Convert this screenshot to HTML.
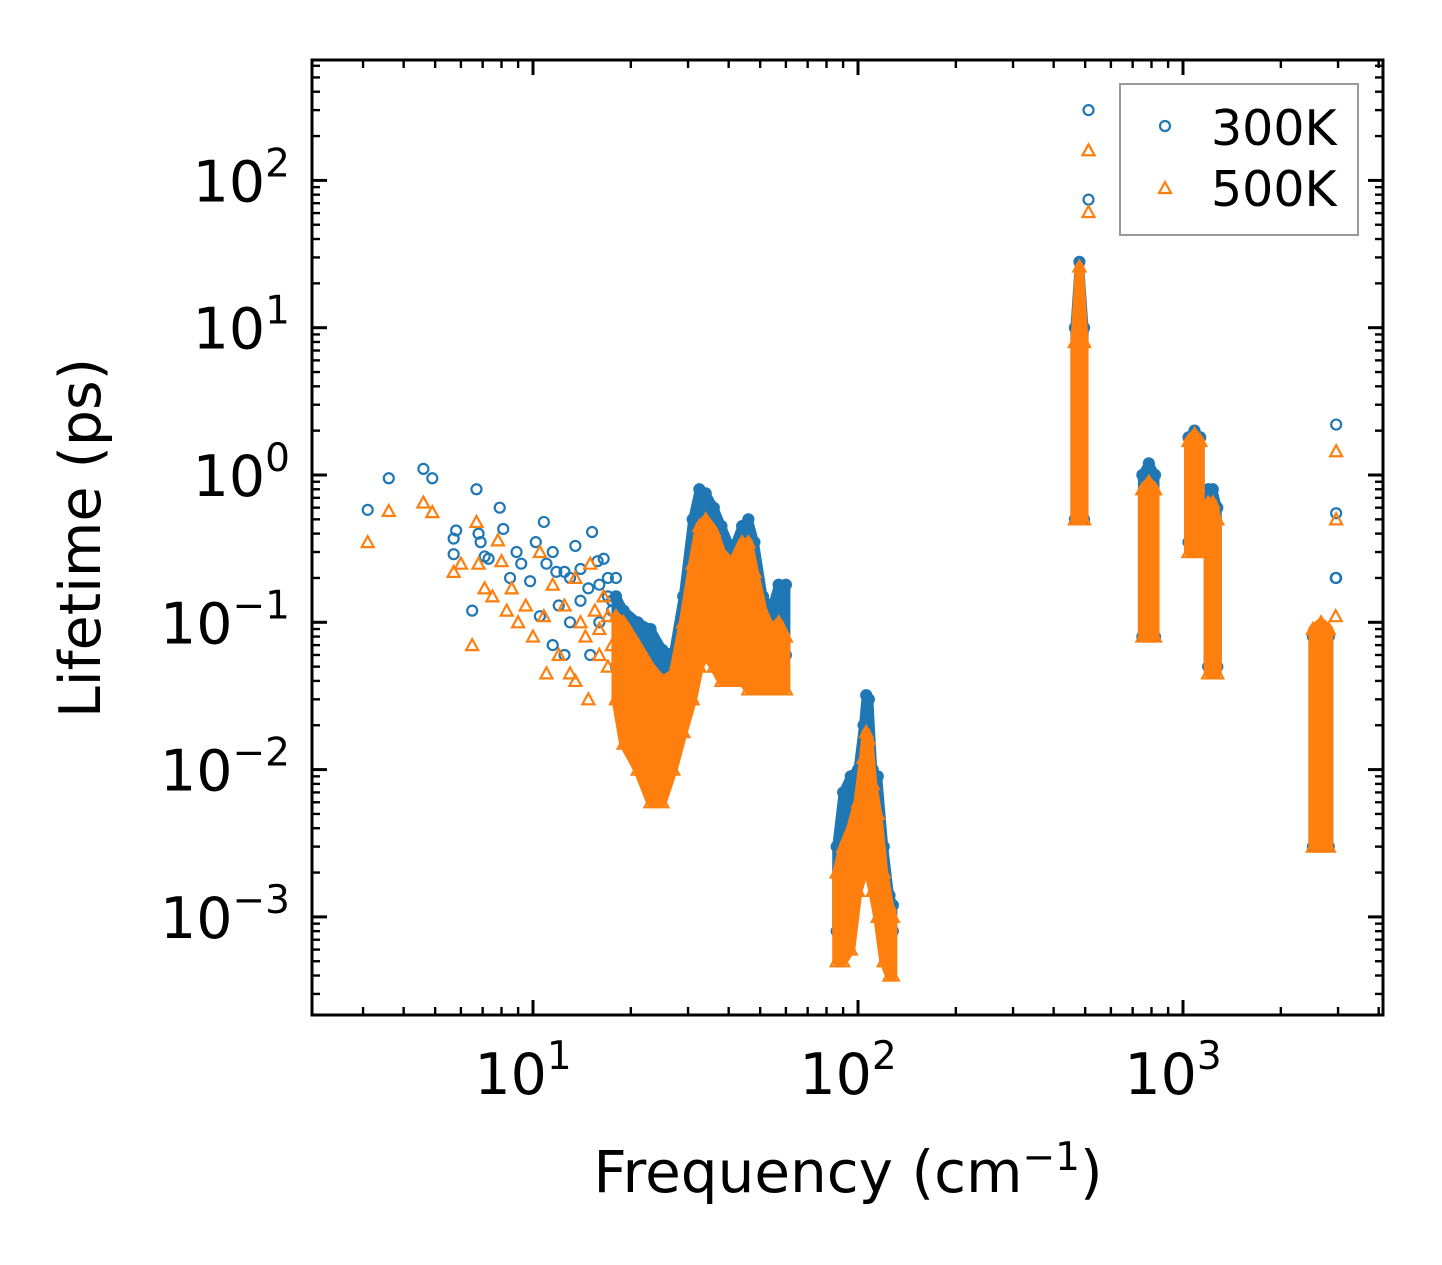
<!DOCTYPE html>
<html><head><meta charset="utf-8">
<style>
html,body{margin:0;padding:0;background:#fff;}
svg{display:block;font-family:"DejaVu Sans","Liberation Sans",sans-serif;}
</style></head>
<body>
<svg id="chart" width="1442" height="1265" viewBox="0 0 1442 1265" xmlns="http://www.w3.org/2000/svg">
<rect width="1442" height="1265" fill="#fff"/>
<g id="marks"></g>
<g id="axes"></g>
<text x="100" y="538" font-size="57" text-anchor="middle" transform="rotate(-90 100 538)">Lifetime (ps)</text>
<text x="848" y="1192" font-size="58" text-anchor="middle">Frequency (cm<tspan dy="-22" font-size="39">−1</tspan><tspan dy="22">)</tspan></text>
<g>
<rect x="1120" y="84" width="238" height="151" fill="#fff" stroke="#999" stroke-width="2"/>
<circle cx="1165" cy="126" r="5" fill="none" stroke="#1f77b4" stroke-width="2.2"/>
<text x="1211" y="145" font-size="49">300K</text>
<path d="M1159,193 L1171,193 L1165,182 Z" fill="none" stroke="#ff7f0e" stroke-width="2.2"/>
<text x="1211" y="206" font-size="49">500K</text>
</g>
</svg>
<script>
// ---- data ----
const xTickValues = [10, 100, 1000];
const xTickExps = ["1", "2", "3"];
const yTickValues = [1e-3, 1e-2, 1e-1, 1, 10, 100];
const yTickExps = ["−3", "−2", "−1", "0", "1", "2"];

// dense cluster envelopes (frequency, low lifetime, high lifetime)
const bandFreqA = [18,19,21,23,25,27,29,31,32.5,34,36,38,41,44,46,48,51,54,57,60];
const hiA300 = [.15,.12,.1,.09,.065,.06,.15,.5,.8,.75,.6,.45,.3,.45,.5,.35,.15,.12,.18,.18];
const loA300 = [.05,.04,.03,.025,.02,.025,.04,.06,.1,.12,.1,.08,.07,.07,.06,.05,.05,.05,.05,.06];
const hiA500 = [.11,.1,.07,.05,.04,.045,.1,.25,.45,.5,.42,.3,.25,.35,.35,.22,.12,.09,.1,.08];
const loA500 = [.03,.015,.01,.006,.006,.01,.018,.03,.05,.06,.05,.04,.04,.04,.035,.035,.035,.035,.035,.035];

const bandFreqB = [86,90,95,100,104,106,108,111,115,120,125,128];
const hiB300 = [.003,.007,.009,.01,.02,.032,.03,.01,.009,.003,.0014,.0012];
const loB300 = [.0008,.0007,.0008,.002,.003,.004,.003,.002,.0015,.0008,.0008,.0008];
const hiB500 = [.002,.003,.004,.006,.012,.018,.016,.008,.005,.002,.0012,.001];
const loB500 = [.0005,.0005,.0006,.0015,.002,.003,.002,.0015,.001,.0005,.0004,.0004];

const bandFreqC = [465,480,496];
const hiC300 = [10,28,10]; const loC300 = [0.5,0.5,0.5];
const hiC500 = [8,26,8];  const loC500 = [0.5,0.5,0.5];

const bandFreqD = [750,785,820];
const hiD300 = [1.0,1.2,1.0]; const loD300 = [0.08,0.08,0.08];
const hiD500 = [0.8,0.9,0.8]; const loD500 = [0.08,0.08,0.08];

const bandFreqE = [1040,1085,1130];
const hiE300 = [1.8,2.0,1.8]; const loE300 = [0.35,0.33,0.35];
const hiE500 = [1.7,1.9,1.7]; const loE500 = [0.3,0.3,0.3];

const bandFreqF = [1195,1235,1275];
const hiF300 = [0.8,0.8,0.6]; const loF300 = [0.05,0.05,0.05];
const hiF500 = [0.65,0.65,0.5]; const loF500 = [0.045,0.045,0.045];

const bandFreqG = [2510,2660,2810];
const hiG300 = [0.08,0.09,0.08]; const loG300 = [0.003,0.003,0.003];
const hiG500 = [0.09,0.1,0.09]; const loG500 = [0.003,0.003,0.003];

// scattered points
const freq300 = [3.1,3.6,4.6,4.9,5.7,5.8,5.7,6.5,6.7,6.8,6.9,7.1,7.3,7.9,8.1,8.5,8.9,9.2,9.8,10.2,10.8,11,11.5,11.8,12.5,13,13.5,14,14.8,15.2,15.8,16.5,17,17.5,10.5,11.5,12,13,14,16,12.5,15,16,17,17.5,18,512,512,2960,2960,2960,2950];
const life300 = [0.58,0.95,1.1,0.95,0.37,0.42,0.29,0.12,0.8,0.4,0.35,0.28,0.27,0.6,0.43,0.2,0.3,0.25,0.19,0.35,0.48,0.25,0.3,0.22,0.22,0.2,0.33,0.23,0.17,0.41,0.26,0.27,0.2,0.14,0.11,0.07,0.13,0.1,0.14,0.1,0.06,0.06,0.18,0.15,0.12,0.2,300,74,2.2,0.55,0.2,0.2];
const freq500 = [3.1,3.6,4.6,4.9,5.7,6,6.5,6.7,6.8,7.1,7.5,7.8,8,8.3,8.6,9,9.5,10,10.5,10.8,11,11.5,12,12.5,13,13.5,14,14.5,15,15.5,16,16.5,17,13.5,14.8,16,17,17.5,512,512,2960,2960,2950];
const life500 = [0.35,0.57,0.65,0.56,0.22,0.25,0.07,0.48,0.25,0.17,0.15,0.36,0.26,0.12,0.17,0.1,0.13,0.08,0.3,0.11,0.045,0.18,0.06,0.13,0.045,0.2,0.1,0.08,0.25,0.12,0.06,0.15,0.05,0.04,0.03,0.09,0.11,0.07,160,61,1.45,0.5,0.11];

// ---- axis functions ----
const X0 = 312, X1 = 1383, Y0 = 60, Y1 = 1015;
function xs(f){ return 533 + (Math.log10(f) - 1) * 325; }
function ys(v){ return 475 - Math.log10(v) * 147.3; }

const NS = "http://www.w3.org/2000/svg";
const marks = document.getElementById('marks');
const axes = document.getElementById('axes');
const BLUE = "#1f77b4", ORANGE = "#ff7f0e";

function mk(tag, attrs, parent){
  const e = document.createElementNS(NS, tag);
  for (const k in attrs) e.setAttribute(k, attrs[k]);
  parent.appendChild(e);
  return e;
}
function circle(f, v, g){
  const c = mk('circle', {cx: xs(f), cy: ys(v), r: 5, fill: 'none', stroke: BLUE, 'stroke-width': 2.2}, g);
  
  
}
function tri(f, v, g){
  const x = xs(f), y = ys(v);
  const p = mk('path', {d: `M${x-6},${y+5} L${x+6},${y+5} L${x},${y-6} Z`, fill: 'none', stroke: ORANGE, 'stroke-width': 2.2}, g);
  
  
}
function band(freqs, lo, hi, color, markFn, name){
  const g = mk('g', {}, marks);
  
  
  let pts = [];
  for (let i = 0; i < freqs.length; i++) pts.push(xs(freqs[i]) + ',' + ys(hi[i]));
  for (let i = freqs.length - 1; i >= 0; i--) pts.push(xs(freqs[i]) + ',' + ys(lo[i]));
  const poly = mk('polygon', {points: pts.join(' '), fill: color, stroke: color, 'stroke-width': 9, 'stroke-linejoin': 'round'}, g);
  
  
  for (let i = 0; i < freqs.length; i++){ markFn(freqs[i], hi[i], g); markFn(freqs[i], lo[i], g); }
}

const g300 = mk('g', {}, marks);


for (let i = 0; i < freq300.length; i++) circle(freq300[i], life300[i], g300);
band(bandFreqA, loA300, hiA300, BLUE, circle, 'cluster-a-300k');
band(bandFreqB, loB300, hiB300, BLUE, circle, 'cluster-b-300k');
band(bandFreqC, loC300, hiC300, BLUE, circle, 'cluster-c-300k');
band(bandFreqD, loD300, hiD300, BLUE, circle, 'cluster-d-300k');
band(bandFreqE, loE300, hiE300, BLUE, circle, 'cluster-e-300k');
band(bandFreqF, loF300, hiF300, BLUE, circle, 'cluster-f-300k');
band(bandFreqG, loG300, hiG300, BLUE, circle, 'cluster-g-300k');
const g500 = mk('g', {}, marks);


for (let i = 0; i < freq500.length; i++) tri(freq500[i], life500[i], g500);
band(bandFreqA, loA500, hiA500, ORANGE, tri, 'cluster-a-500k');
band(bandFreqB, loB500, hiB500, ORANGE, tri, 'cluster-b-500k');
band(bandFreqC, loC500, hiC500, ORANGE, tri, 'cluster-c-500k');
band(bandFreqD, loD500, hiD500, ORANGE, tri, 'cluster-d-500k');
band(bandFreqE, loE500, hiE500, ORANGE, tri, 'cluster-e-500k');
band(bandFreqF, loF500, hiF500, ORANGE, tri, 'cluster-f-500k');
band(bandFreqG, loG500, hiG500, ORANGE, tri, 'cluster-g-500k');

// ---- axes ----
const frame = mk('rect', {x: X0, y: Y0, width: X1 - X0, height: Y1 - Y0, fill: 'none', stroke: '#000', 'stroke-width': 3}, axes);



function line(x1, y1, x2, y2, w){ mk('line', {x1, y1, x2, y2, stroke: '#000', 'stroke-width': w}, axes); }
for (let d = 0; d <= 4; d++){
  for (let m = 1; m <= 9; m++){
    const f = m * Math.pow(10, d);
    const x = xs(f);
    if (x < X0 || x > X1) continue;
    const L = m === 1 ? 15 : 8, w = m === 1 ? 3 : 2.4;
    line(x, Y1, x, Y1 - L, w); line(x, Y0, x, Y0 + L, w);
  }
}
for (let d = -4; d <= 2; d++){
  for (let m = 1; m <= 9; m++){
    const v = m * Math.pow(10, d);
    const y = ys(v);
    if (y < Y0 || y > Y1) continue;
    const L = m === 1 ? 15 : 8, w = m === 1 ? 3 : 2.4;
    line(X0, y, X0 + L, y, w); line(X1, y, X1 - L, y, w);
  }
}
for (let i = 0; i < xTickValues.length; i++){
  const t = mk('text', {x: xs(xTickValues[i]) - 10, y: 1094, 'font-size': 57, 'text-anchor': 'middle'}, axes);
  
  
  t.innerHTML = '10<tspan dy="-25" font-size="39">' + xTickExps[i] + '</tspan>';
}
for (let i = 0; i < yTickValues.length; i++){
  const t = mk('text', {x: 290, y: ys(yTickValues[i]) + 21, 'font-size': 57, 'text-anchor': 'end'}, axes);
  
  
  t.innerHTML = '10<tspan dy="-25" font-size="39">' + yTickExps[i] + '</tspan>';
}
</script>
</body></html>
